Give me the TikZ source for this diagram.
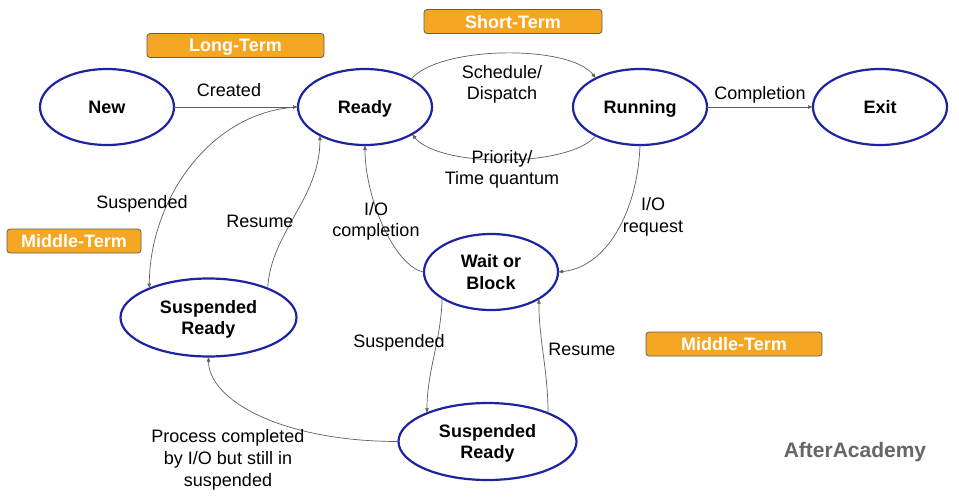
\documentclass[tikz,border=0pt]{standalone}
\usepackage{fontspec}
\setmainfont{Liberation Sans}
\usetikzlibrary{shapes.geometric,arrows.meta}
\definecolor{stateblue}{RGB}{28,36,160}
\definecolor{termorange}{RGB}{245,166,35}
\definecolor{edgegray}{RGB}{95,95,95}
\definecolor{markgray}{RGB}{102,102,102}

\begin{document}
\begin{tikzpicture}[x=1pt,y=-1pt,
  every node/.style={font=\fontsize{18}{21.8}\selectfont, align=center, inner sep=0pt, outer sep=0pt, text depth=0pt},
  state/.style={ellipse, draw=stateblue, line width=2.2pt, minimum width=134pt, minimum height=76pt, font=\fontsize{18}{21.8}\selectfont\bfseries},
  term/.style={draw=edgegray, fill=termorange, rounded corners=3pt, line width=0.8pt, minimum height=24pt, text=white, font=\fontsize{18}{21.8}\selectfont\bfseries},
  flow/.style={draw=edgegray, line width=0.7pt, -{Latex[length=5pt,width=4pt]}}]
\fill[white] (0,0) rectangle (959,499);
\useasboundingbox (0,0) rectangle (959,499);

\node[state] (new) at (107,107) {New};
\node[state] (ready) at (365,107) {Ready};
\node[state] (running) at (640,107) {Running};
\node[state] (exit) at (880,107) {Exit};
\node[state] (wait) at (491,272) {Wait or\\Block};
\node[state, minimum width=176pt, minimum height=78pt] (susready) at (208.5,317.5) {Suspended\\Ready};
\node[state, minimum width=178pt, minimum height=77pt] (susblock) at (487.5,441.5) {Suspended\\Ready};

\node[term, minimum width=177pt] (longterm) at (235.5,45.5) {Long-Term};
\node[term, minimum width=178pt] (shortterm) at (513,21.5) {Short-Term};
\node[term, minimum width=134pt] (midleft) at (74,241) {Middle-Term};
\node[term, minimum width=176pt] (midright) at (734,344) {Middle-Term};

\draw[flow] (new) -- (ready);
\draw[flow] (running) -- (exit);
\draw[flow] (ready.31) .. controls +(28,-34) and +(-26,-34) .. (running.147);
\draw[flow] (running.213) .. controls +(-26,32) and +(28,34) .. (ready.330);
\draw[flow] (ready.west) .. controls +(-88,4) and +(0,-88) .. (susready.154);
\draw[flow] (susready.26) .. controls +(3,-57) and +(0,64) .. (ready.212);
\draw[flow] (wait.west) .. controls +(-29,-5) and +(0,54) .. (ready.south);
\draw[flow] (running.south) .. controls +(-2,64) and +(50,-5) .. (wait.east);
\draw[flow] (wait.208) .. controls +(-1,42) and +(0,-42) .. (susblock.155);
\draw[flow] (susblock.25) .. controls +(0,-43) and +(0,42) .. (wait.331);
\draw[flow] (susblock.west) .. controls +(-118,0) and +(0,43) .. (susready.south);

\node (created) at (229,90) {Created};
\node (schedule) at (502,82.5) {Schedule/\\Dispatch};
\node (priority) at (502,167.5) {Priority/\\Time quantum};
\node (completion) at (760,93) {Completion};
\node (suspendleft) at (142,202) {Suspended};
\node (resumeleft) at (260,221) {Resume};
\node (iocompletion) at (376,219.5) {I/O\\completion};
\node (iorequest) at (653,215) {I/O\\request};
\node (suspendmid) at (399,341) {Suspended};
\node (resumeright) at (582,349) {Resume};
\node (processdone) at (228,458) {Process completed\\by I/O but still in\\suspended};
\node[text=markgray, font=\fontsize{21}{24}\selectfont\bfseries] (brand) at (855,450) {AfterAcademy};
\end{tikzpicture}
\end{document}
